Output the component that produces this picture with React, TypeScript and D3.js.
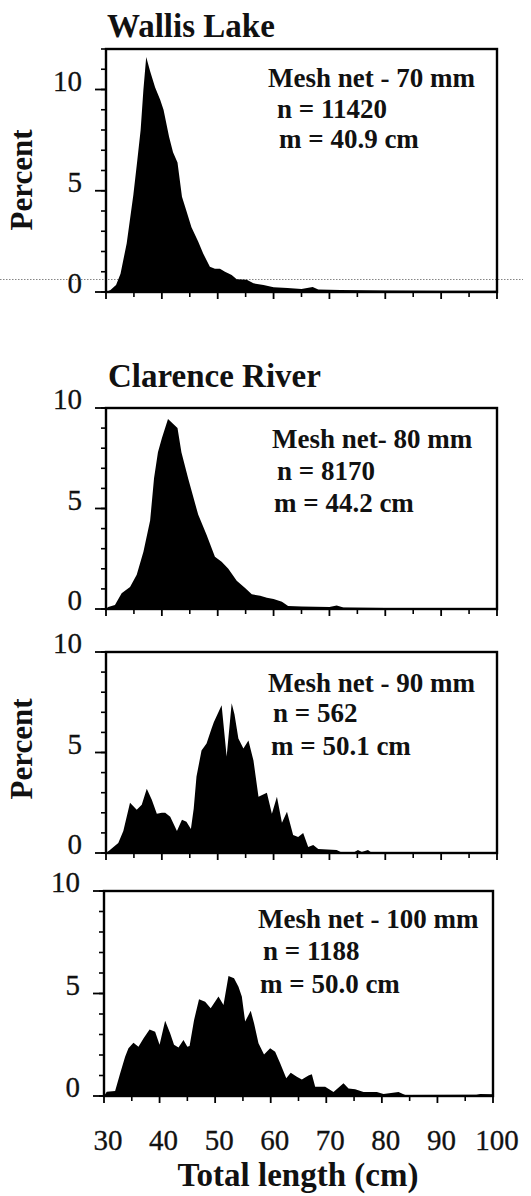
import * as d3 from "d3";

// length-frequency outlines: [total length cm, percent]
const wallisLake70: [number, number][] = [
  [30, 0], [30.8, 0.1], [31.8, 0.35], [32.6, 0.9], [33.7, 2.4], [34.9, 4.8],
  [35.6, 6.5], [36.2, 8.0], [36.7, 10.0], [37.2, 11.6], [37.9, 10.9],
  [38.8, 10.1], [39.7, 9.5], [40.3, 9.0], [41.3, 7.65], [42.0, 6.9],
  [42.8, 6.4], [43.6, 4.7], [44.4, 4.0], [45.3, 3.2], [46.5, 2.5],
  [47.4, 1.9], [48.6, 1.25], [49.5, 1.15], [50.4, 1.15], [51.3, 1.0],
  [52.5, 0.84], [53.4, 0.63], [55.2, 0.6], [56.4, 0.43], [58.2, 0.35],
  [60.0, 0.23], [62.5, 0.2], [65, 0.15], [67, 0.25], [68, 0.12], [72, 0.1],
  [80, 0.08], [90, 0.06], [100, 0.06],
];

const clarence80: [number, number][] = [
  [30, 0], [30.4, 0.1], [31.6, 0.2], [32.8, 0.78], [34.3, 1.1], [35.5, 1.7],
  [36.7, 2.85], [37.9, 4.4], [38.6, 6.5], [39.3, 7.8], [40.0, 8.5],
  [41.1, 9.45], [42.8, 9.0], [43.5, 7.8], [44.7, 6.5], [46.5, 4.7],
  [48.0, 3.7], [49.5, 2.6], [50.7, 2.35], [51.9, 2.0], [53.4, 1.4],
  [54.9, 1.05], [56.1, 0.73], [57.6, 0.66], [58.8, 0.56], [60.0, 0.5],
  [61.5, 0.36], [62.6, 0.15], [65, 0.12], [70, 0.1], [71.3, 0.18],
  [72.5, 0.08], [80, 0.05], [100, 0.05],
];

const clarence90: [number, number][] = [
  [30, 0], [30.7, 0.15], [32.2, 0.5], [33.1, 1.1], [34.3, 2.5], [35.5, 2.15],
  [36.4, 2.4], [37.3, 3.2], [38.2, 2.65], [39.1, 1.95], [40.0, 2.0],
  [40.6, 2.0], [41.5, 1.8], [42.7, 1.1], [43.6, 1.65], [44.4, 1.55],
  [45.2, 1.2], [45.7, 2.2], [46.2, 3.8], [47.1, 5.1], [48.0, 5.45],
  [48.9, 6.2], [49.3, 6.5], [50.7, 7.35], [51.6, 4.8], [52.5, 7.45],
  [53.0, 6.9], [53.7, 5.7], [54.6, 5.2], [55.5, 5.6], [56.4, 4.6],
  [57.3, 2.8], [58.8, 3.0], [59.7, 1.95], [60.6, 2.8], [61.5, 1.5],
  [62.4, 2.05], [63.5, 0.9], [64.4, 0.8], [65.3, 1.0], [66.2, 0.3],
  [67.1, 0.4], [68, 0.2], [71.3, 0.15], [72, 0.05], [74.5, 0.05],
  [75.1, 0.15], [75.8, 0.05], [76.9, 0.15], [77.5, 0.03], [85, 0.02],
  [100, 0.02],
];

const clarence100: [number, number][] = [
  [30, 0], [30.5, 0.21], [32.0, 0.24], [32.9, 1.1], [33.8, 1.92], [34.4, 2.33],
  [35.3, 2.6], [36.2, 2.4], [37.1, 2.8], [38.2, 3.25], [39.2, 3.14],
  [40.0, 2.5], [41.0, 3.67], [41.9, 3.06], [42.6, 2.5], [43.4, 2.37],
  [44.3, 2.73], [45.0, 2.4], [45.4, 2.44], [46.2, 3.7], [47.1, 4.72],
  [48.2, 4.6], [49.2, 4.28], [50.6, 4.85], [51.5, 4.44], [52.4, 5.85],
  [53.4, 5.74], [54.2, 5.33], [54.8, 4.85], [55.4, 3.63], [56.4, 4.16],
  [57.0, 3.55], [57.8, 2.57], [58.8, 2.03], [59.9, 2.33], [60.8, 2.16],
  [61.7, 1.6], [62.8, 0.86], [63.6, 1.14], [64.7, 0.94], [65.6, 0.8],
  [66.8, 1.0], [67.4, 1.06], [68.0, 0.45], [69.8, 0.45], [71.3, 0.2],
  [73.1, 0.62], [74.0, 0.37], [75.2, 0.33], [76.7, 0.2], [79.1, 0.2],
  [80.3, 0.1], [83.0, 0.2], [84.2, 0.05], [97, 0.06], [97.7, 0.1],
  [100, 0.08],
];

const xLabelTicks = [30, 40, 50, 60, 70, 80, 90, 100];
const xMinorTicks = [35, 45, 55, 65, 75, 85, 95];
const yLabelTicks = [0, 5, 10];

const panelNotes = [
  ["Mesh net - 70 mm", "n = 11420", "m = 40.9 cm"],
  ["Mesh net- 80 mm", "n = 8170", "m = 44.2 cm"],
  ["Mesh net - 90 mm", "n = 562", "m = 50.1 cm"],
  ["Mesh net - 100 mm", "n = 1188", "m = 50.0 cm"],
];

const FONT = "'Liberation Serif', 'Times New Roman', serif";
const INK = "#111";

interface PanelProps {
  data: [number, number][];
  notes: string[];
  left: number;
  right: number;
  top: number;
  bottom: number;
  yMax: number;
  noteX: number[];
  noteY: number[];
  showXLabels?: boolean;
}

function Panel({ data, notes, left, right, top, bottom, yMax, noteX, noteY, showXLabels }: PanelProps) {
  const x = d3.scaleLinear().domain([30, 100]).range([left, right]);
  const y = d3.scaleLinear().domain([0, yMax]).range([bottom, top]);
  const area = d3
    .area<[number, number]>()
    .x((d) => x(d[0]))
    .y0(y(0))
    .y1((d) => y(d[1]))
    .curve(d3.curveLinear);
  const minorY = d3.range(0, Math.floor(yMax) + 1);

  return (
    <g>
      <path d={area(data) ?? ""} fill="#000" />
      {minorY.map((v) => (
        <line key={`my${v}`} x1={left - 5} x2={left} y1={y(v)} y2={y(v)} stroke="#000" strokeWidth={1.6} />
      ))}
      {yLabelTicks.map((v) => (
        <g key={`y${v}`}>
          <line x1={left - 11} x2={left} y1={y(v)} y2={y(v)} stroke="#000" strokeWidth={1.8} />
          <text
            x={left - 24}
            y={y(v) + 1}
            textAnchor="end"
            fontSize={29}
            fontFamily={FONT}
            fill={INK}
            stroke={INK}
            strokeWidth={0.3}
          >
            {v}
          </text>
        </g>
      ))}
      {xMinorTicks.map((v) => (
        <line key={`mx${v}`} x1={x(v)} x2={x(v)} y1={bottom} y2={bottom + 5} stroke="#000" strokeWidth={1.6} />
      ))}
      {xLabelTicks.map((v) => (
        <g key={`x${v}`}>
          <line x1={x(v)} x2={x(v)} y1={bottom} y2={bottom + 7} stroke="#000" strokeWidth={1.8} />
          {showXLabels && (
            <text
              x={x(v) + 4}
              y={1150}
              textAnchor="middle"
              fontSize={29}
              fontFamily={FONT}
              fill={INK}
              stroke={INK}
              strokeWidth={0.3}
            >
              {v}
            </text>
          )}
        </g>
      ))}
      <rect x={left} y={top} width={right - left} height={bottom - top} fill="none" stroke="#000" strokeWidth={2.4} />
      {notes.map((line, i) => (
        <text key={line} x={noteX[i]} y={noteY[i]} fontSize={27} fontWeight={700} fontFamily={FONT} fill={INK}>
          {line}
        </text>
      ))}
    </g>
  );
}

export default function App() {
  return (
    <svg
      width={531}
      height={1196}
      viewBox="0 0 531 1196"
      style={{ position: "absolute", left: 0, top: 0, background: "#fff" }}
    >
      <rect width={531} height={1196} fill="#fff" />
      {/* faint dotted scan line crossing the first panel */}
      <line x1={0} x2={523} y1={279.5} y2={279.5} stroke="#666" strokeWidth={0.8} strokeDasharray="1.5 1.5" />

      <text x={107} y={37} fontSize={33} fontWeight={700} fontFamily={FONT} fill={INK}>
        Wallis Lake
      </text>
      <text x={108} y={387} fontSize={33} fontWeight={700} fontFamily={FONT} fill={INK}>
        Clarence River
      </text>

      <Panel
        data={wallisLake70}
        notes={panelNotes[0]}
        left={106}
        right={497}
        top={49}
        bottom={292}
        yMax={12}
        noteX={[268, 277, 279]}
        noteY={[87, 118, 148]}
      />
      <Panel
        data={clarence80}
        notes={panelNotes[1]}
        left={106}
        right={497}
        top={408}
        bottom={609}
        yMax={10}
        noteX={[272, 277, 274]}
        noteY={[448, 480, 512]}
      />
      <Panel
        data={clarence90}
        notes={panelNotes[2]}
        left={106}
        right={497}
        top={652}
        bottom={853}
        yMax={10}
        noteX={[268, 273, 271]}
        noteY={[692, 722, 755]}
      />
      <Panel
        data={clarence100}
        notes={panelNotes[3]}
        left={104}
        right={493}
        top={891}
        bottom={1096}
        yMax={10}
        noteX={[258, 263, 260]}
        noteY={[928, 960, 993]}
        showXLabels
      />

      <text transform="translate(32,180) rotate(-90)" textAnchor="middle" fontSize={31} fontWeight={700} fontFamily={FONT} fill={INK}>
        Percent
      </text>
      <text transform="translate(32,749) rotate(-90)" textAnchor="middle" fontSize={31} fontWeight={700} fontFamily={FONT} fill={INK}>
        Percent
      </text>
      <text x={298} y={1186} textAnchor="middle" fontSize={33} fontWeight={700} fontFamily={FONT} fill={INK}>
        Total length (cm)
      </text>
    </svg>
  );
}
